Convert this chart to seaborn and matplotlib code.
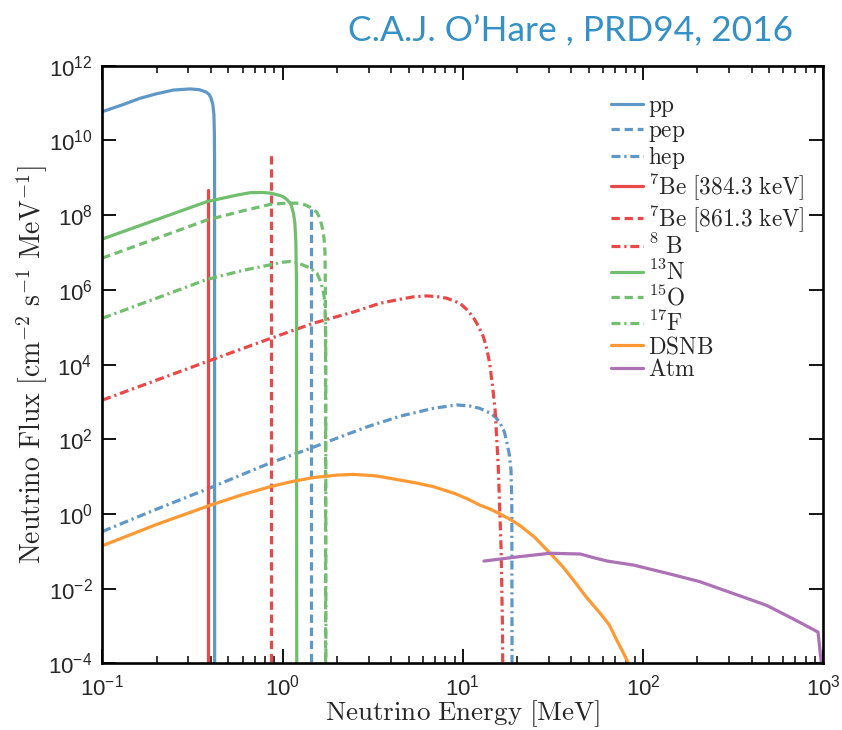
import matplotlib
matplotlib.use("Agg")
import matplotlib.pyplot as plt
import seaborn as sns
from matplotlib.ticker import NullLocator, LogLocator, LogFormatterSciNotation, FixedLocator
from matplotlib.font_manager import FontProperties

# ---------------- data (energy in MeV, flux in cm^-2 s^-1 MeV^-1) ----------------
pp_E = [0.1, 0.13, 0.162, 0.2, 0.248, 0.307, 0.345, 0.375, 0.39, 0.40, 0.41, 0.416, 0.4185,
        0.4195, 0.42]
pp_flux = [5.9e10, 9.1e10, 1.35e11, 1.78e11, 2.24e11, 2.4e11, 2.29e11, 2.0e11, 1.74e11, 1.41e11,
           9.5e10, 5.0e10, 1.6e10, 3.2e9, 1e-5]

pep_E = [1.442, 1.442]
pep_flux = [1e-5, 1.45e8]

hep_E = [0.1, 0.2, 0.4, 0.855, 1.43, 2.0, 2.93, 4.5, 6.86, 9.25, 11.0, 12.4, 14.2, 15.3, 16.1,
         17.0, 17.5, 18.1, 18.5, 18.7, 18.77]
hep_flux = [0.34, 1.35, 5.1, 23.4, 57.5, 107, 214, 417, 676, 832, 776, 676, 501, 380, 269,
            158, 89, 40, 15.8, 2.0, 1e-5]

be7a_E = [0.3843, 0.3843]
be7a_flux = [1e-5, 4.7e8]

be7b_E = [0.8613, 0.8613]
be7b_flux = [1e-5, 4.3e9]

b8_E = [0.1, 0.38, 0.855, 1.49, 2.5, 3.48, 4.48, 5.3, 6.31, 7.2, 8.13, 9.64, 10.5, 11.4, 12.2,
        13.0, 13.6, 14.1, 14.6, 15.1, 15.7, 16.3, 16.6, 16.7]
b8_flux = [1.12e3, 1.2e4, 5.0e4, 1.29e5, 2.6e5, 4.4e5, 5.6e5, 6.5e5, 6.9e5, 6.6e5, 6.0e5,
           4.4e5, 3.0e5, 1.9e5, 1.07e5, 5.6e4, 2.6e4, 1.07e4, 2.8e3, 630, 23, 0.13, 1e-3, 1e-5]

n13_E = [0.1, 0.2, 0.38, 0.55, 0.66, 0.76, 0.855, 0.93, 1.0, 1.06, 1.1, 1.12, 1.15, 1.17,
         1.185, 1.195, 1.199]
n13_flux = [2.3e7, 7.6e7, 2.3e8, 3.4e8, 4.0e8, 4.07e8, 3.9e8, 3.55e8, 3.2e8, 2.6e8, 2.1e8,
            1.8e8, 1.1e8, 6.3e7, 2.0e7, 1.6e6, 1e-5]

o15_E = [0.1, 0.2, 0.38, 0.6, 0.855, 1.05, 1.2, 1.33, 1.43, 1.55, 1.61, 1.67, 1.70, 1.72, 1.728,
         1.731, 1.732]
o15_flux = [7.1e6, 2.4e7, 7.4e7, 1.3e8, 1.95e8, 2.1e8, 2.1e8, 1.9e8, 1.6e8, 1.2e8, 8.3e7,
            4.2e7, 2.3e7, 1.0e7, 1.0e6, 3.2e4, 1e-5]

f17_E = [0.1, 0.2, 0.38, 0.6, 0.855, 1.0, 1.1, 1.25, 1.43, 1.55, 1.61, 1.67, 1.70, 1.72, 1.735,
         1.738, 1.74]
f17_flux = [1.74e5, 6.0e5, 1.9e6, 3.3e6, 4.7e6, 5.5e6, 5.75e6, 5.0e6, 3.8e6, 2.8e6, 1.86e6,
            1.07e6, 6.8e5, 3.5e5, 6.3e4, 3.2e3, 1e-5]

dsnb_E = [0.1, 0.2, 0.4, 0.6, 0.855, 1.1, 1.49, 2.0, 2.47, 3.3, 4.48, 5.5, 6.86, 9.0, 10.7, 12.4,
          14.2, 16.1, 18.5, 21, 25, 30.5, 36, 41.1, 48, 57.8, 65, 71.3, 77, 83, 90]
dsnb_flux = [0.141, 0.525, 1.74, 3.3, 5.4, 7.2, 9.5, 11.0, 11.5, 10.5, 8.1, 6.8, 5.4, 3.55,
             2.5, 1.74, 1.35, 1.0, 0.7, 0.47, 0.24, 0.089, 0.038, 0.017, 6.3e-3, 2.2e-3,
             1.07e-3, 4.3e-4, 2.1e-4, 1e-4, 4e-5]

atm_E = [13.1, 20, 30.5, 44.8, 53, 63.3, 88.5, 140, 206, 320, 484, 700, 935, 1000]
atm_flux = [0.055, 0.071, 0.089, 0.085, 0.068, 0.055, 0.043, 0.025, 0.0155, 7.3e-3, 3.6e-3,
            1.45e-3, 6.9e-4, 3.2e-5]

labels = ["pp", "pep", "hep", r"$^7\mathrm{Be\ [384.3\ keV]}$", r"$^7\mathrm{Be\ [861.3\ keV]}$",
          r"$^8\ \mathrm{B}$", r"$^{13}\mathrm{N}$", r"$^{15}\mathrm{O}$", r"$^{17}\mathrm{F}$",
          "DSNB", "Atm"]

# ---------------- style ----------------
sns.set_style("ticks")
plt.rcParams["mathtext.fontset"] = "custom"
plt.rcParams["mathtext.rm"] = "Liberation Sans"
plt.rcParams["mathtext.it"] = "Liberation Sans:italic"
plt.rcParams["mathtext.bf"] = "Liberation Sans:bold"
plt.rcParams["mathtext.default"] = "regular"
plt.rcParams["font.family"] = ["Liberation Sans", "DejaVu Sans"]

BLUE = "#5F98C6"
RED = "#E94849"
GREEN = "#71BF6E"
ORANGE = "#FF9933"
PURPLE = "#AD71B5"

SOLID = "-"
DASH = (0, (2.6, 1.5))
DDOT = (0, (2.8, 1.2, 0.7, 1.2))

series = [
    (pp_E, pp_flux, BLUE, SOLID),
    (pep_E, pep_flux, BLUE, DASH),
    (hep_E, hep_flux, BLUE, DDOT),
    (be7a_E, be7a_flux, RED, SOLID),
    (be7b_E, be7b_flux, RED, DASH),
    (b8_E, b8_flux, RED, DDOT),
    (n13_E, n13_flux, GREEN, SOLID),
    (o15_E, o15_flux, GREEN, DASH),
    (f17_E, f17_flux, GREEN, DDOT),
    (dsnb_E, dsnb_flux, ORANGE, SOLID),
    (atm_E, atm_flux, PURPLE, SOLID),
]

fig = plt.figure(figsize=(8.42, 7.30), dpi=100)
ax = fig.add_axes([0.1215, 0.0912, 0.8563, 0.8187])

for (E, F, c, ls), lab in zip(series, labels):
    sns.lineplot(x=E, y=F, ax=ax, color=c, linestyle=ls, linewidth=2.3,
                 estimator=None, sort=False, label=lab, legend=False)

ax.set_xscale("log")
ax.set_yscale("log")
ax.set_xlim(0.1, 1000)
ax.set_ylim(1e-4, 1e12)

ax.xaxis.set_major_locator(LogLocator(base=10, numticks=10))
ax.xaxis.set_minor_locator(LogLocator(base=10, subs=range(2, 10), numticks=20))
ax.yaxis.set_major_locator(FixedLocator([10.0 ** k for k in range(-4, 13, 2)]))
ax.yaxis.set_minor_locator(NullLocator())
ax.xaxis.set_major_formatter(LogFormatterSciNotation())
ax.yaxis.set_major_formatter(LogFormatterSciNotation())

ax.tick_params(which="both", direction="in", top=True, right=True, color="black")
ax.tick_params(which="major", length=10, width=1.3, labelsize=16, pad=7)
ax.tick_params(axis="x", which="major", pad=8)
ax.tick_params(which="minor", length=5, width=1.1)
for sp in ax.spines.values():
    sp.set_linewidth(1.9)
    sp.set_color("black")

ax.set_xlabel(r"$\mathrm{Neutrino\ Energy\ [MeV]}$", fontsize=19.5, math_fontfamily="cm")
ax.set_ylabel(r"$\mathrm{Neutrino\ Flux\ [cm^{-2}\ s^{-1}\ MeV^{-1}]}$", fontsize=20,
              math_fontfamily="cm")
ax.xaxis.set_label_coords(0.5, -0.058)
ax.yaxis.set_label_coords(-0.072, 0.5)

legfont = FontProperties(size=16.8, math_fontfamily="cm", family="cmr10")
leg_labels = [lab if lab.startswith("$") else r"$\mathrm{%s}$" % lab for lab in labels]
handles = ax.get_lines()
leg = ax.legend(handles, leg_labels, loc="upper left", bbox_to_anchor=(0.705, 0.951),
                frameon=False, prop=legfont, handlelength=1.4, handletextpad=0.2,
                labelspacing=0.02, borderpad=0, borderaxespad=0)

fig.text(0.677, 0.957, "C.A.J. O\u2019Hare , PRD94, 2016", color="#3590C6",
         fontsize=25.5, family="Lato", ha="center", va="center")

fig.savefig("out.png", dpi=100)
